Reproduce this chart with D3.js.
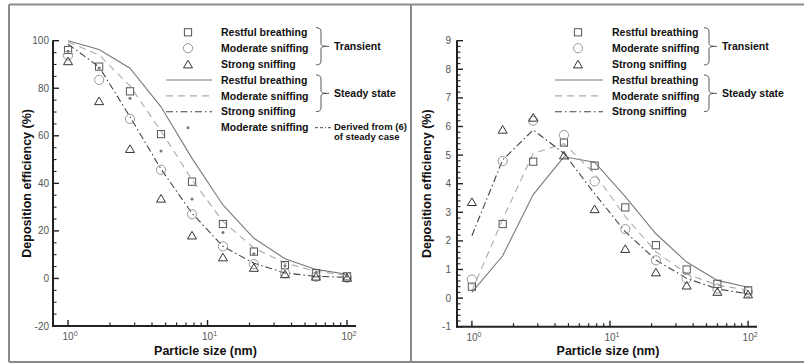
<!DOCTYPE html>
<html>
<head>
<meta charset="utf-8">
<script src="https://cdn.jsdelivr.net/npm/d3@7"></script>
<style>
  html, body { margin: 0; padding: 0; background: #fff; }
  svg { display: block; font-family: "Liberation Sans", Arial, sans-serif; }
</style>
</head>
<body>
<svg id="chart" width="804" height="364"></svg>
<script>
// Particle sizes (nm), log-spaced
const sizes = [1, 1.67, 2.78, 4.64, 7.74, 12.9, 21.5, 35.9, 59.9, 100];

// Left panel: total deposition efficiency (%)
const leftRestfulTransient  = [96.1, 89.1, 78.7, 60.7, 40.7, 22.9, 11.3, 5.6, 2.2, 0.9];
const leftModerateTransient = [93.8, 83.5, 67.1, 45.7, 27.0, 13.5, 6.0, 2.2, 0.7, 0.3];
const leftStrongTransient   = [91.5, 74.7, 54.6, 33.7, 18.2, 9.0, 4.6, 1.9, 0.9, 0.4];
const leftRestfulSteady     = [100, 96.3, 88.4, 72.2, 50.5, 30.9, 16.9, 8.3, 3.8, 1.8];
const leftModerateSteady    = [99.5, 94.0, 81.0, 62.0, 41.5, 24.0, 12.8, 6.5, 3.0, 1.4];
const leftStrongSteady      = [98.5, 89.0, 68.0, 46.0, 27.4, 13.5, 6.4, 2.3, 0.9, 0.5];
const leftModerateDerived   = [95.6, 88.5, 75.8, 53.6, 33.4, 19.3, 10.4, 5.3, 2.4, 0.9];

// Right panel: deposition efficiency (%)
const rightRestfulTransient  = [0.4, 2.59, 4.77, 5.44, 4.63, 3.17, 1.85, 1.0, 0.5, 0.27];
const rightModerateTransient = [0.65, 4.79, 6.2, 5.7, 4.08, 2.41, 1.32, 0.68, 0.33, 0.22];
const rightStrongTransient   = [3.37, 5.9, 6.32, 5.0, 3.12, 1.73, 0.91, 0.45, 0.23, 0.14];
const rightRestfulSteady     = [0.2, 1.48, 3.62, 4.94, 4.75, 3.55, 2.25, 1.26, 0.62, 0.38];
const rightModerateSteady    = [0.25, 2.75, 5.06, 5.4, 4.35, 2.85, 1.62, 0.85, 0.45, 0.28];
const rightStrongSteady      = [2.18, 4.83, 5.88, 5.06, 3.65, 2.32, 1.33, 0.69, 0.32, 0.15];

// Axis ticks
const xDecades = [1, 10, 100];
const xDecadeLabels = ["0", "1", "2"];
const leftYTicks = [-20, 0, 20, 40, 60, 80, 100];
const rightYTicks = [-1, 0, 1, 2, 3, 4, 5, 6, 7, 8, 9];

// Legend labels
const transientLabels = ["Restful breathing", "Moderate sniffing", "Strong sniffing"];
const steadyLabels = ["Restful breathing", "Moderate sniffing", "Strong sniffing"];
const groupLabels = ["Transient", "Steady state"];
const derivedLabel = "Moderate sniffing";
const derivedNote = ["Derived from (6)", "of steady case"];
const xTitle = "Particle size (nm)";
const yTitle = "Deposition efficiency (%)";

const svg = d3.select("#chart");

// Styles
const C = {
  square: "#555", circle: "#999", triangle: "#333",
  solid: "#7a7a7a", dashed: "#aaaaaa", dashdot: "#444", star: "#777"
};
const DASH = "7,5";
const DASHDOT = "7,3,1.5,3";

// Outer frame
const frame = svg.append("g").attr("stroke", "#8a8a8a").attr("stroke-width", 2).attr("fill", "none");
frame.append("line").attr("x1", 9).attr("x2", 804).attr("y1", 4.5).attr("y2", 4.5);
frame.append("line").attr("x1", 9).attr("x2", 804).attr("y1", 362).attr("y2", 362);
frame.append("line").attr("x1", 9).attr("x2", 9).attr("y1", 4.5).attr("y2", 362);
frame.append("line").attr("x1", 411).attr("x2", 411).attr("y1", 4.5).attr("y2", 362);

function trianglePath(w, h) {
  return `M0,${-h / 2}L${w / 2},${h / 2}L${-w / 2},${h / 2}Z`;
}

function drawMarker(g, type, x, y) {
  if (type === "square") {
    g.append("rect").attr("x", x - 3.6).attr("y", y - 3.6).attr("width", 7.2).attr("height", 7.2)
      .attr("fill", "none").attr("stroke", C.square).attr("stroke-width", 1);
  } else if (type === "circle") {
    g.append("circle").attr("cx", x).attr("cy", y).attr("r", 4.6)
      .attr("fill", "none").attr("stroke", C.circle).attr("stroke-width", 1);
  } else if (type === "triangle") {
    g.append("path").attr("d", trianglePath(9, 7.6)).attr("transform", `translate(${x},${y})`)
      .attr("fill", "none").attr("stroke", C.triangle).attr("stroke-width", 1);
  } else if (type === "star") {
    g.append("circle").attr("cx", x).attr("cy", y).attr("r", 1.5).attr("fill", C.star);
  }
}

function brace(g, xl, y1, y2, label) {
  const ym = (y1 + y2) / 2;
  const xm = xl + 5;
  g.append("path")
    .attr("d", `M${xl},${y1}Q${xm},${y1} ${xm},${y1 + 4}L${xm},${ym - 3}Q${xm},${ym} ${xm + 5},${ym}` +
               `Q${xm},${ym} ${xm},${ym + 3}L${xm},${y2 - 4}Q${xm},${y2} ${xl},${y2}` +
               `M${xm + 5},${ym}L${xm + 8},${ym}`)
    .attr("fill", "none").attr("stroke", "#444").attr("stroke-width", 0.9);
  g.append("text").attr("x", xl + 18).attr("y", ym).attr("dy", "0.35em")
    .attr("font-size", 10.5).attr("font-weight", "bold").attr("fill", "#111").text(label);
}

function panel(cfg) {
  const g = svg.append("g");
  const x = d3.scaleLog().domain([0.78, 116]).range([cfg.x0, cfg.x1]);
  const y = d3.scaleLinear().domain(cfg.yDomain).range([cfg.yBottom, cfg.yTop]);

  // Minor / major x ticks pointing inward
  const xMinor = [];
  for (let d = 1; d <= 100; d *= 10) for (let k = 2; k <= 9; k++) if (d * k <= 116) xMinor.push(d * k);
  const axisG = g.append("g").attr("stroke", "#222");
  xMinor.forEach(v => axisG.append("line").attr("x1", x(v)).attr("x2", x(v))
    .attr("y1", cfg.yBottom).attr("y2", cfg.yBottom - 3.5).attr("stroke-width", 1.2));
  xDecades.forEach(v => axisG.append("line").attr("x1", x(v)).attr("x2", x(v))
    .attr("y1", cfg.yBottom).attr("y2", cfg.yBottom - 6).attr("stroke-width", 1.4));

  // y ticks
  const [y0, y1] = cfg.yDomain;
  for (let v = y0; v <= y1 + 1e-9; v += cfg.yMinorStep) {
    const vv = Math.round(v * 1000) / 1000;
    const major = cfg.yTicks.some(t => Math.abs(t - vv) < 1e-6);
    axisG.append("line").attr("x1", cfg.x0).attr("x2", cfg.x0 + (major ? 6 : 3.5))
      .attr("y1", y(vv)).attr("y2", y(vv)).attr("stroke-width", major ? 1.4 : 1.1);
  }

  // axis lines
  axisG.append("line").attr("x1", cfg.x0).attr("x2", cfg.x0).attr("y1", cfg.yTop - 0.5).attr("y2", cfg.yBottom + 1)
    .attr("stroke-width", 2);
  axisG.append("line").attr("x1", cfg.x0 - 1).attr("x2", cfg.x1).attr("y1", cfg.yBottom).attr("y2", cfg.yBottom)
    .attr("stroke-width", 2);

  // y tick labels
  cfg.yTicks.forEach(t => g.append("text").attr("x", cfg.x0 - cfg.labelGap).attr("y", y(t)).attr("dy", "0.35em")
    .attr("text-anchor", "end").attr("font-size", 10).attr("fill", "#555").text(t));

  // x tick labels 10^n
  xDecades.forEach((v, i) => {
    const t = g.append("text").attr("x", x(v) + 2).attr("y", cfg.yBottom + 14)
      .attr("text-anchor", "middle").attr("font-size", 10).attr("fill", "#555");
    t.append("tspan").text("10");
    t.append("tspan").attr("font-size", 7).attr("dy", -4).text(xDecadeLabels[i]);
  });

  // axis titles
  g.append("text").attr("x", (cfg.x0 + cfg.x1) / 2 + 1).attr("y", 354.5).attr("text-anchor", "middle")
    .attr("font-size", 12.5).attr("font-weight", "bold").attr("fill", "#111").text(xTitle);
  g.append("text").attr("transform", `translate(${cfg.yTitleX},${(cfg.yTop + cfg.yBottom) / 2}) rotate(-90)`)
    .attr("text-anchor", "middle").attr("font-size", 12.5).attr("font-weight", "bold").attr("fill", "#111").text(yTitle);

  // curves
  const line = d3.line().x((d, i) => x(sizes[i])).y(d => y(d));
  const curves = g.append("g").attr("fill", "none");
  curves.append("path").attr("d", line(cfg.restfulSteady)).attr("stroke", C.solid).attr("stroke-width", 1.1);
  curves.append("path").attr("d", line(cfg.moderateSteady)).attr("stroke", C.dashed).attr("stroke-width", 1.1)
    .attr("stroke-dasharray", DASH);
  curves.append("path").attr("d", line(cfg.strongSteady)).attr("stroke", C.dashdot).attr("stroke-width", 1.1)
    .attr("stroke-dasharray", DASHDOT);

  // markers
  const mk = g.append("g");
  sizes.forEach((s, i) => drawMarker(mk, "square", x(s), y(cfg.restfulTransient[i])));
  sizes.forEach((s, i) => drawMarker(mk, "circle", x(s), y(cfg.moderateTransient[i])));
  sizes.forEach((s, i) => drawMarker(mk, "triangle", x(s), y(cfg.strongTransient[i])));
  if (cfg.derived) sizes.forEach((s, i) => drawMarker(mk, "star", x(s), y(cfg.derived[i])));

  // legend
  const lg = g.append("g");
  const rowY = i => 32.3 + i * 15.9;
  const types = ["square", "circle", "triangle"];
  transientLabels.forEach((lab, i) => {
    drawMarker(lg, types[i], cfg.legSym, rowY(i));
    lg.append("text").attr("x", cfg.legText).attr("y", rowY(i)).attr("dy", "0.35em")
      .attr("font-size", 10.5).attr("font-weight", "bold").attr("fill", "#111").text(lab);
  });
  const lineStyles = [[C.solid, null], [C.dashed, DASH], [C.dashdot, DASHDOT]];
  steadyLabels.forEach((lab, i) => {
    const yy = rowY(i + 3);
    const l = lg.append("line").attr("x1", cfg.legLine0).attr("x2", cfg.legLine1).attr("y1", yy).attr("y2", yy)
      .attr("stroke", lineStyles[i][0]).attr("stroke-width", 1.1);
    if (lineStyles[i][1]) l.attr("stroke-dasharray", lineStyles[i][1]);
    lg.append("text").attr("x", cfg.legText).attr("y", yy).attr("dy", "0.35em")
      .attr("font-size", 10.5).attr("font-weight", "bold").attr("fill", "#111").text(lab);
  });
  brace(lg, cfg.braceX, 27.7, 65, groupLabels[0]);
  brace(lg, cfg.braceX, 75, 111.7, groupLabels[1]);

  if (cfg.derived) {
    const yy = rowY(6);
    drawMarker(lg, "star", cfg.legSym, yy);
    lg.append("text").attr("x", cfg.legText).attr("y", yy).attr("dy", "0.35em")
      .attr("font-size", 10.5).attr("font-weight", "bold").attr("fill", "#111").text(derivedLabel);
    lg.append("line").attr("x1", cfg.braceX - 1).attr("x2", cfg.braceX + 15).attr("y1", yy).attr("y2", yy)
      .attr("stroke", "#333").attr("stroke-width", 0.9).attr("stroke-dasharray", "3,2,3,2,1,2");
    const nt = lg.append("text").attr("font-size", 9.5).attr("font-weight", "bold").attr("fill", "#111");
    nt.append("tspan").attr("x", cfg.braceX + 18).attr("y", yy + 2.5).text(derivedNote[0]);
    nt.append("tspan").attr("x", cfg.braceX + 18).attr("y", yy + 12.5).text(derivedNote[1]);
  }
}

panel({
  x0: 53, x1: 356, yTop: 40.7, yBottom: 326, yDomain: [-20, 100], yTicks: leftYTicks, yMinorStep: 5,
  labelGap: 4, yTitleX: 31,
  restfulTransient: leftRestfulTransient, moderateTransient: leftModerateTransient, strongTransient: leftStrongTransient,
  restfulSteady: leftRestfulSteady, moderateSteady: leftModerateSteady, strongSteady: leftStrongSteady,
  derived: leftModerateDerived,
  legSym: 188, legText: 221, legLine0: 166, legLine1: 212, braceX: 316
});

panel({
  x0: 457, x1: 757, yTop: 40.7, yBottom: 326.7, yDomain: [-1, 9], yTicks: rightYTicks, yMinorStep: 0.2,
  labelGap: 6, yTitleX: 431,
  restfulTransient: rightRestfulTransient, moderateTransient: rightModerateTransient, strongTransient: rightStrongTransient,
  restfulSteady: rightRestfulSteady, moderateSteady: rightModerateSteady, strongSteady: rightStrongSteady,
  derived: null,
  legSym: 578, legText: 612, legLine0: 555, legLine1: 603, braceX: 704
});
</script>
</body>
</html>
